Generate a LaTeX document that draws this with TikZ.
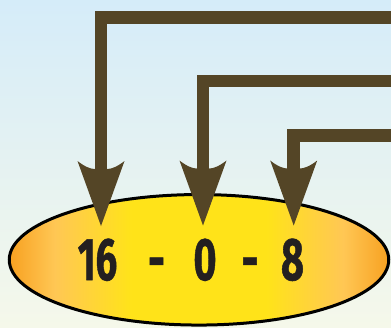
\documentclass[tikz,border=0pt]{standalone}
\usepackage{fontspec}
\setmainfont{Fira Sans}
\newfontfamily\digitfont{Fira Sans}[BoldFeatures={FakeBold=1}]
\usetikzlibrary{shapes.geometric}
\definecolor{arrowc}{RGB}{84,69,38}
\definecolor{txtc}{RGB}{35,31,32}
\definecolor{bgtop}{RGB}{213,236,249}
\definecolor{bgbot}{RGB}{245,248,234}
\pgfdeclarehorizontalshading{ellshade}{100bp}{rgb(0bp)=(0.97,0.63,0.13); rgb(25bp)=(0.97,0.63,0.13); rgb(31bp)=(1,0.78,0.33); rgb(41bp)=(1,0.89,0.1); rgb(59bp)=(1,0.89,0.1); rgb(69bp)=(1,0.78,0.33); rgb(75bp)=(0.97,0.63,0.13); rgb(100bp)=(0.97,0.63,0.13)}
\tikzset{
  digit/.style={inner sep=0pt, outer sep=0pt, anchor=base, text=txtc, font=\fontsize{60}{60}\selectfont\digitfont\bfseries},
  shaft/.style={draw=arrowc, line width=12.6pt, line join=miter},
  pics/arrowhead/.style={code={\fill[arrowc] (0,0) -- (-23.5,-65) .. controls (-16,-59) and (-10,-57) .. (-6.3,-57) -- (6.3,-57) .. controls (10,-57) and (16,-59) .. (23.5,-65) -- cycle;}}
}
\begin{document}
\begin{tikzpicture}[x=1pt,y=-1pt]
\useasboundingbox (0,0) rectangle (391,327);
\clip (0,0) rectangle (391,327);
\shade[top color=bgtop, bottom color=bgbot] (0,0) rectangle (391,327);
\node (e) [ellipse, draw=black, line width=3pt, shading=ellshade, shading angle=0, minimum width=379.5pt, minimum height=130.5pt, inner sep=0pt, outer sep=0pt] at (199,259.8) {};
% free ends and tips
\coordinate (s1) at (395,17.5);
\coordinate (s2) at (395,81);
\coordinate (s3) at (395,135.3);
\coordinate (t1) at (101,226);
\coordinate (t2) at (203,225.5);
\coordinate (t3) at (293.7,225.5);
\draw[shaft] (s1) -| ([yshift=55pt]t1);
\draw[shaft] (s2) -| ([yshift=55pt]t2);
\draw[shaft] (s3) -| ([yshift=55pt]t3);
\pic at (t1) {arrowhead};
\pic at (t2) {arrowhead};
\pic at (t3) {arrowhead};
% text
\node (d1) [digit] at (97.5,280) {\scalebox{0.64}[1]{16}};
\node (m1) [digit] at (156.5,280) {\scalebox{0.7}[1]{-}};
\node (d2) [digit] at (205,280) {\scalebox{0.66}[1]{0}};
\node (m2) [digit] at (250,280) {\scalebox{0.7}[1]{-}};
\node (d3) [digit] at (292.5,280) {\scalebox{0.66}[1]{8}};
\end{tikzpicture}
\end{document}
